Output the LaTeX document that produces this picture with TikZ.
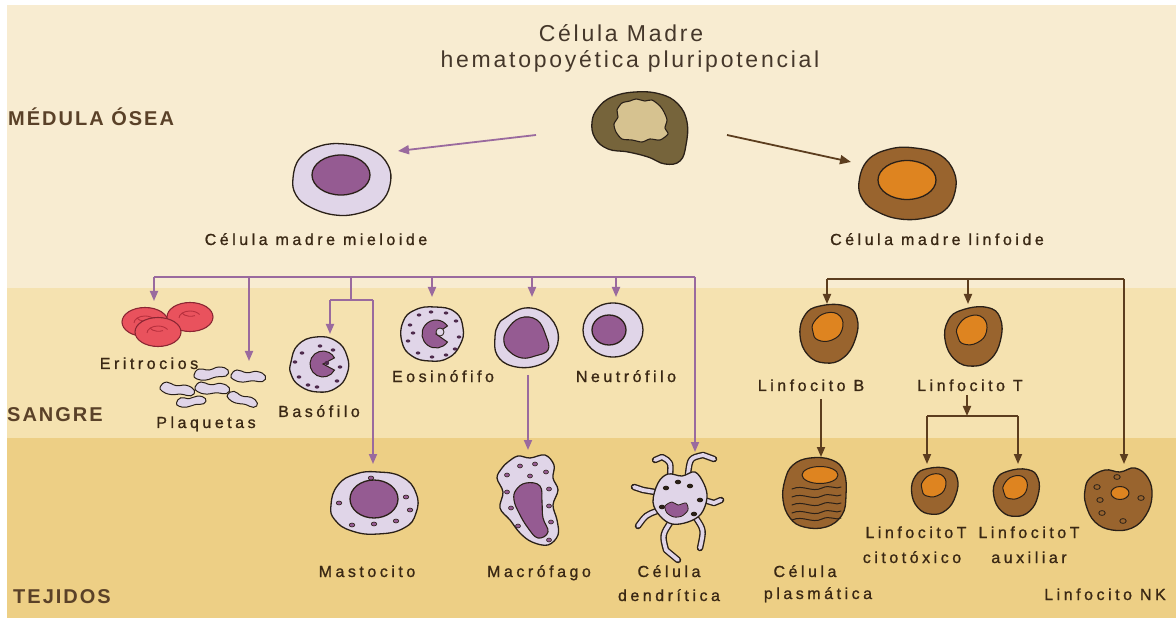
\documentclass[tikz,border=0pt]{standalone}
\usepackage{fontspec}
\usetikzlibrary{arrows.meta}
\setmainfont{Liberation Sans}
\newfontfamily\lblfont[LetterSpace=22, FakeBold=1.0]{Liberation Sans}
\newfontfamily\titlefont[LetterSpace=12]{Liberation Sans}
\newfontfamily\zonefont[LetterSpace=10]{Liberation Sans}

\definecolor{bgTop}{HTML}{F8ECD1}
\definecolor{bgMid}{HTML}{F5E2B0}
\definecolor{bgLow}{HTML}{EDCF85}
\definecolor{ink}{HTML}{2A2018}
\definecolor{txt}{HTML}{3A2814}
\definecolor{ttl}{HTML}{45372A}
\definecolor{zone}{HTML}{5A4128}
\definecolor{conP}{HTML}{9A6A9E}
\definecolor{conB}{HTML}{5C3D1E}
\definecolor{lav}{HTML}{E0D5E8}
\definecolor{nucP}{HTML}{955B92}
\definecolor{dotP}{HTML}{4E2A4C}
\definecolor{brn}{HTML}{99642E}
\definecolor{org}{HTML}{DE8420}
\definecolor{olive}{HTML}{76643B}
\definecolor{tanN}{HTML}{D6C290}
\definecolor{rbc}{HTML}{E9525D}
\definecolor{rbcO}{HTML}{8A2633}
\definecolor{rbcD}{HTML}{B8303E}

\tikzset{
  cell/.style={draw=ink, line width=1.3pt, line join=round},
  pline/.style={draw=conP, line width=1.8pt},
  parrow/.style={pline, -{Triangle[length=10pt,width=8pt]}},
  bline/.style={draw=conB, line width=1.8pt},
  barrow/.style={bline, -{Triangle[length=10pt,width=8pt]}},
  lbl/.style={font=\lblfont\fontsize{16}{18}\selectfont, text=txt, anchor=base, inner sep=0pt},
  ttlbl/.style={font=\titlefont\fontsize{23}{26}\selectfont, text=ttl, anchor=base, inner sep=0pt},
  zonelbl/.style={font=\zonefont\bfseries\fontsize{20}{22}\selectfont, text=zone, anchor=base west, inner sep=0pt},
  lympho/.pic={
    \draw[cell, fill=brn] plot[smooth cycle, tension=0.75] coordinates
      {(-23,-19) (-8,-28) (17,-28) (29,-16) (27,6) (15,24) (-3,29) (-20,21) (-28,1)};
    \draw[cell, fill=org, line width=1pt] plot[smooth cycle, tension=0.8] coordinates
      {(-14,-12) (-2,-21) (12,-18) (14,-4) (4,6) (-10,6) (-15,-2)};
  },
  platelet/.pic={
    \draw[draw=ink, line width=1pt, fill=lav] plot[smooth cycle, tension=0.8] coordinates
      {(-17,1) (-12,-5) (-2,-4) (8,-7) (17,-4) (15,2) (5,3) (-5,6) (-14,5)};
  },
  rbcdisc/.pic={
    \draw[draw=rbcO, line width=1.1pt, fill=rbc] (0,0) ellipse (23 and 14.5);
    \draw[rbcD, line width=0.9pt] (-11,1) arc[start angle=180, end angle=330, x radius=11, y radius=7];
    \draw[rbcD, line width=0.9pt] (-8,-4) arc[start angle=160, end angle=60, x radius=9, y radius=5];
  }
}

\begin{document}
\begin{tikzpicture}[x=1pt, y=-1pt]
\useasboundingbox (0,0) rectangle (1176,620);

% background bands
\fill[white] (0,0) rectangle (1176,620);
\fill[bgTop] (7,5) rectangle (1176,288);
\fill[bgMid] (7,288) rectangle (1176,438);
\fill[bgLow] (7,438) rectangle (1176,618);

% zone labels
\node[zonelbl] (zMed) at (8,126) {MÉDULA ÓSEA};
\node[zonelbl] (zSan) at (7,421) {SANGRE};
\node[zonelbl] (zTej) at (13,603) {TEJIDOS};

% title
\node[ttlbl] (tA) at (621,42) {Célula Madre};
\node[ttlbl] (tB) at (630,68) {hematopoyética pluripotencial};

% ---------- cells ----------
% pluripotent stem cell
\draw[cell, fill=olive] plot[smooth cycle, tension=0.7] coordinates
  {(598,108) (612,97) (635,92) (660,94) (678,104) (687,122) (686,145) (680,161) (665,164) (648,157) (628,152) (608,149) (595,138) (592,122)};
\draw[cell, fill=tanN, line width=1.1pt] plot[smooth cycle, tension=0.45] coordinates
  {(617,110) (622,103) (630,101) (636,99) (645,101) (652,100) (660,106) (664,112) (667,120) (665,128) (668,134) (660,140) (650,139) (642,142) (632,140) (622,139) (616,132) (614,124) (618,117)};
\coordinate (stemL) at (536,135);
\coordinate (stemR) at (727,135);

% myeloid progenitor
\draw[cell, fill=lav] plot[smooth cycle, tension=0.7] coordinates
  {(293,178) (300,158) (320,146) (345,144) (372,150) (388,165) (390,185) (380,203) (360,213) (335,215) (310,207) (296,195)};
\draw[cell, fill=nucP] (341,175) ellipse (29 and 20);
\coordinate (myeIn) at (398,151);

% lymphoid progenitor
\draw[cell, fill=brn] plot[smooth cycle, tension=0.7] coordinates
  {(859,182) (868,160) (890,149) (915,148) (940,155) (954,172) (955,192) (945,210) (925,218) (900,219) (878,212) (863,200)};
\draw[cell, fill=org] (907,180) ellipse (29 and 19.5);
\coordinate (lymIn) at (851,162);

% erythrocytes
\pic at (145,322) {rbcdisc};
\pic at (190,317) {rbcdisc};
\pic at (158,332) {rbcdisc};

% platelets
\pic at (211,374) {platelet};
\pic[rotate=-10] at (248,377) {platelet};
\pic[rotate=-15] at (177,390) {platelet};
\pic[rotate=-10] at (212,389) {platelet};
\pic[scale=0.85] at (191,402) {platelet};
\pic[rotate=-25, scale=0.9] at (242,400) {platelet};

% basophil
\draw[cell, fill=lav] plot[smooth cycle, tension=0.8] coordinates
  {(291,362) (298,345) (316,337) (336,341) (347,356) (347,374) (336,388) (318,392) (300,386) (291,374)};
\foreach \p in {{(302,353)},{(320,346)},{(333,350)},{(340,367)},{(337,381)},{(317,387)},{(299,377)},{(295,362)},{(308,385)}}
  \fill[dotP] \p ellipse (2.3 and 1.7);
\draw[draw=ink, line width=1pt, fill=nucP] (323,364) -- ++(28:13) arc[start angle=28, end angle=332, radius=13] -- cycle;
\fill[dotP] (327,363) circle (2.2);

% mast cell
\draw[cell, fill=lav] plot[smooth cycle, tension=0.8] coordinates
  {(331,505) (338,485) (356,474) (378,472) (402,477) (416,493) (416,513) (404,528) (378,534) (352,531) (335,520)};
\draw[cell, fill=nucP] (374,499) ellipse (24 and 19);
\foreach \p in {{(371,478)},{(339,503)},{(406,497)},{(352,525)},{(374,524)},{(396,521)},{(410,510)}}
  \draw[draw=ink, line width=0.6pt, fill=nucP] \p ellipse (2.8 and 2);

% eosinophil
\draw[cell, fill=lav] plot[smooth cycle, tension=0.8] coordinates
  {(403,322) (415,310) (435,307) (455,312) (463,328) (460,345) (448,358) (430,361) (412,356) (402,342)};
\foreach \p in {{(410,325)},{(419,315)},{(431,312)},{(446,313)},{(456,321)},{(459,337)},{(455,349)},{(446,355)},{(432,357)},{(418,353)},{(408,341)},{(413,333)}}
  \fill[dotP] \p ellipse (2.3 and 1.6);
\draw[draw=ink, line width=1pt, fill=nucP] (436,334) -- ++(35:14) arc[start angle=35, end angle=325, radius=14] -- cycle;
\draw[draw=ink, line width=0.8pt, fill=lav] (440,332) circle (4);

% monocyte
\draw[cell, fill=lav] plot[smooth cycle, tension=0.7] coordinates
  {(505,318) (525,308) (546,314) (558,333) (553,354) (536,366) (512,366) (497,355) (495,337) (498,325)};
\draw[cell, fill=nucP, line width=1.1pt] plot[smooth cycle, tension=0.7] coordinates
  {(507,330) (520,318) (537,320) (546,336) (548,350) (535,356) (522,358) (510,352) (504,342)};
\coordinate (monoOut) at (528,375);

% neutrophil
\draw[cell, fill=lav] (613,330) ellipse (30 and 27);
\draw[cell, fill=nucP] (609,330) ellipse (17 and 15);

% macrophage
\draw[cell, fill=lav] plot[smooth cycle, tension=0.6] coordinates
  {(508,462) (518,456) (530,458) (545,455) (554,465) (553,478) (558,490) (553,505) (557,520) (558,535) (548,545) (532,542) (520,533) (510,520) (500,508) (503,492) (497,478) (502,468)};
\draw[cell, fill=nucP, line width=1.1pt] plot[smooth cycle, tension=0.7] coordinates
  {(516,490) (526,483) (540,486) (542,502) (543,518) (548,532) (538,538) (528,528) (519,513) (514,500)};
\foreach \p in {{(507,475)},{(520,466)},{(535,464)},{(546,472)},{(549,489)},{(507,492)},{(511,508)},{(549,506)},{(551,522)},{(518,526)},{(549,540)},{(530,476)}}
  \draw[draw=ink, line width=0.6pt, fill=nucP] \p ellipse (2.5 and 2);

% dendritic cell: arms first, then body
\foreach \pth in {
  {(670,476) .. controls (671,462) .. (662,457) -- (655,460)},
  {(688,474) .. controls (690,458) .. (703,455) -- (714,459)},
  {(655,492) -- (643,490) -- (634,487)},
  {(657,511) .. controls (646,515) .. (638,526)},
  {(672,520) .. controls (662,535) .. (666,550) -- (678,560)},
  {(696,518) .. controls (704,530) .. (700,548)},
  {(704,500) -- (714,503) -- (721,500)}}{
  \draw[ink, line width=6.5pt, line cap=round, line join=round] \pth;
  \draw[lav, line width=3.8pt, line cap=round, line join=round] \pth;
}
\draw[cell, fill=lav] plot[smooth cycle, tension=0.6] coordinates
  {(658,483) (668,474) (682,476) (695,472) (704,484) (707,498) (701,514) (688,522) (672,524) (660,516) (653,502)};
\foreach \p in {{(666,488)},{(690,486)},{(700,500)},{(662,507)},{(694,514)},{(678,482)}}
  \fill[ink] \p ellipse (3.2 and 2.3);
\draw[draw=ink, line width=0.8pt, fill=nucP] plot[smooth cycle, tension=0.5] coordinates
  {(665,506) (672,502) (678,505) (686,503) (688,510) (682,516) (674,517) (667,513)};

% lymphocytes
\pic at (828,334) {lympho};
\pic[rotate=6] at (973,337) {lympho};
\pic[scale=0.8] at (934,491) {lympho};
\pic[scale=0.8, rotate=5] at (1016,493) {lympho};

% plasma cell
\draw[cell, fill=brn] plot[smooth cycle, tension=0.7] coordinates
  {(785,480) (793,465) (810,458) (832,460) (844,472) (846,495) (842,515) (826,527) (804,527) (790,518) (783,500)};
\draw[cell, fill=org, line width=1pt] (820,475) ellipse (18 and 8.5);
\foreach \yy in {489,497,505,513,520}{
  \draw[ink, line width=1pt, line cap=round] (792,\yy) .. controls (803,\yy-5) and (812,\yy+4) .. (822,\yy-1) .. controls (830,\yy-5) and (836,\yy+1) .. (841,\yy-2);
}

% NK cell
\draw[cell, fill=brn] plot[smooth cycle, tension=0.7] coordinates
  {(1090,478) (1105,470) (1120,472) (1135,468) (1148,478) (1152,496) (1146,515) (1132,528) (1112,530) (1095,522) (1086,505) (1085,490)};
\draw[cell, fill=org, line width=1pt] (1120,493) ellipse (9 and 6.5);
\foreach \p in {{(1117,477)},{(1097,487)},{(1100,500)},{(1102,513)},{(1123,521)},{(1141,498)}}
  \draw[draw=ink, line width=0.8pt, fill=brn] \p ellipse (3.2 and 2.4);

% ---------- labels ----------
\node[lbl] (lMye) at (316,245) {Célula madre mieloide};
\node[lbl] (lLym) at (937,245) {Célula madre linfoide};
\node[lbl] (lEri) at (149,369) {Eritrocios};
\node[lbl] (lPla) at (206,428) {Plaquetas};
\node[lbl] (lBas) at (319,417) {Basófilo};
\node[lbl] (lEos) at (443,382) {Eosinófifo};
\node[lbl] (lNeu) at (626,382) {Neutrófilo};
\node[lbl] (lMas) at (367,577) {Mastocito};
\node[lbl] (lMac) at (539,577) {Macrófago};
\node[lbl] (lDen1) at (669,577) {Célula};
\node[lbl] (lDen2) at (669,601) {dendrítica};
\node[lbl] (lB) at (811,391) {Linfocito B};
\node[lbl] (lT) at (970,391) {Linfocito T};
\node[lbl] (lPl1) at (805,577) {Célula};
\node[lbl] (lPl2) at (818,599) {plasmática};
\node[lbl] (lTc1) at (916,538) {LinfocitoT};
\node[lbl] (lTc2) at (912,563) {citotóxico};
\node[lbl] (lTh1) at (1029,538) {LinfocitoT};
\node[lbl] (lTh2) at (1029,563) {auxiliar};
\node[lbl] (lNK) at (1105,600) {Linfocito NK};

% ---------- connectors ----------
% arrows from the stem cell
\draw[pline, -{Triangle[length=11pt,width=9pt]}] (stemL) -- (myeIn);
\draw[bline, -{Triangle[length=11pt,width=9pt]}] (stemR) -- (lymIn);

% myeloid tree
\coordinate (mBarL) at (154,277);
\coordinate (mBarR) at (695,277);
\coordinate (mSplit) at (351,300);
\coordinate (eriIn) at (154,301);
\coordinate (plaIn) at (249,361);
\coordinate (basIn) at (330,334);
\coordinate (masIn) at (373,464);
\coordinate (eosIn) at (432,297);
\coordinate (monIn) at (532,297);
\coordinate (neuIn) at (616,297);
\coordinate (denIn) at (695,452);
\coordinate (macIn) at (528,450);

\draw[pline] (mBarL) -- (mBarR);
\draw[parrow] (eriIn |- mBarL) -- (eriIn);
\draw[parrow] (plaIn |- mBarL) -- (plaIn);
\draw[pline] (mSplit |- mBarL) -- (mSplit);
\draw[pline] (basIn |- mSplit) -- (masIn |- mSplit);
\draw[parrow] (basIn |- mSplit) -- (basIn);
\draw[parrow] (masIn |- mSplit) -- (masIn);
\draw[parrow] (eosIn |- mBarL) -- (eosIn);
\draw[parrow] (monIn |- mBarL) -- (monIn);
\draw[parrow] (neuIn |- mBarL) -- (neuIn);
\draw[parrow] (mBarR) -- (denIn);
\draw[parrow] (monoOut) -- (macIn);

% lymphoid tree
\coordinate (lBarL) at (827,279);
\coordinate (lBarR) at (1124,279);
\coordinate (bIn) at (827,304);
\coordinate (tIn) at (968,304);
\coordinate (nkIn) at (1124,464);
\coordinate (plIn) at (821,457);
\coordinate (tSplit) at (967,416);
\coordinate (tcIn) at (927,464);
\coordinate (thIn) at (1018,464);

\draw[bline] (lBarL) -- (lBarR);
\draw[barrow] (bIn |- lBarL) -- (bIn);
\draw[barrow] (tIn |- lBarL) -- (tIn);
\draw[barrow] (lBarR) -- (nkIn);
\draw[barrow] ([yshift=-8pt]lB.south -| plIn) -- (plIn);
\draw[barrow] ([yshift=-4pt]lT.south -| tSplit) -- (tSplit);
\draw[bline] (tcIn |- tSplit) -- (thIn |- tSplit);
\draw[barrow] (tcIn |- tSplit) -- (tcIn);
\draw[barrow] (thIn |- tSplit) -- (thIn);

\end{tikzpicture}
\end{document}
